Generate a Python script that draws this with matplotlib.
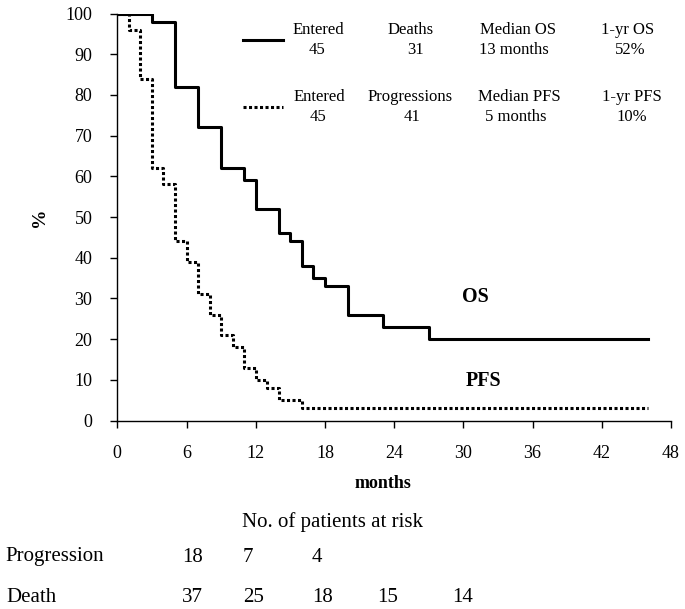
import matplotlib
matplotlib.use('Agg')
import matplotlib.pyplot as plt
from matplotlib.lines import Line2D

plt.rcParams['font.family'] = ['Liberation Serif', 'DejaVu Serif']

# curvas de supervivencia (meses, %)
os_meses = [0, 3, 5, 7, 9, 11, 12, 14, 15, 16, 17, 18, 20, 23, 27, 46]
os_pct = [100, 98, 82, 72, 62, 59, 52, 46, 44, 38, 35, 33, 26, 23, 20, 20]

pfs_meses = [0, 1, 2, 3, 4, 5, 6, 7, 8, 9, 10, 11, 12, 13, 14, 16, 46]
pfs_pct = [100, 96, 84, 62, 58, 44, 39, 31, 26, 21, 18, 13, 10, 8, 5, 3, 3]

# leyenda tipo tabla
fila_os = [('Entered', '45'), ('Deaths', '31'), ('Median OS', '13 months'), ('1-yr OS', '52%')]
fila_pfs = [('Entered', '45'), ('Progressions', '41'), ('Median PFS', '5 months'), ('1-yr PFS', '10%')]

# pacientes en riesgo
riesgo_progresion = [18, 7, 4]
riesgo_muerte = [37, 25, 18, 15, 14]

W, H = 685, 609
fig = plt.figure(figsize=(W / 100, H / 100), dpi=100)


def px(x, y):
    # pixel (desde arriba a la izquierda) -> fracción de figura
    return x / W, 1 - y / H


x0, y0 = px(117.3, 420.5)
x1, y1 = px(671, 13.5)
ax = fig.add_axes([x0, y0, x1 - x0, y1 - y0])

ax.step(os_meses, os_pct, where='post', color='black', lw=2.2)
ax.step(pfs_meses, pfs_pct, where='post', color='black', lw=2.2, linestyle=(0, (1, 0.8)))

ax.set_xlim(0, 48)
ax.set_ylim(0, 100)
ax.set_xticks(range(0, 49, 6))
ax.set_yticks(range(0, 101, 10))
ax.spines['top'].set_visible(False)
ax.spines['right'].set_visible(False)
for s in ('left', 'bottom'):
    ax.spines[s].set_linewidth(1.0)
ax.tick_params(axis='both', direction='out', length=5, width=1.0, labelsize=13)
ax.tick_params(axis='x', pad=13)
ax.tick_params(axis='y', pad=13)

ax.text(*px(475.7, 297), 'OS', transform=fig.transFigure, ha='center', va='center',
        fontsize=14.5, fontweight='bold')
ax.text(*px(483, 381), 'PFS', transform=fig.transFigure, ha='center', va='center',
        fontsize=14.5, fontweight='bold')

fig.text(*px(40, 217), '%', rotation=90, ha='center', va='center', fontsize=14, fontweight='bold')
fig.text(*px(383, 483), 'months', ha='center', va='center', fontsize=13, fontweight='bold')

# leyenda
fig.add_artist(Line2D([243 / W, 283 / W], [1 - 39.5 / H] * 2, color='black', lw=2.2,
                      transform=fig.transFigure))
fig.add_artist(Line2D([243 / W, 283 / W], [1 - 107.3 / H] * 2, color='black', lw=2.2,
                      linestyle=(0, (1, 0.8)), transform=fig.transFigure))

cols_os = [(318, 317), (410.5, 415), (518, 514), (628, 630)]
cols_pfs = [(319.5, 318.5), (410, 411.7), (519.5, 515.5), (632, 632)]
for (t1, t2), (c1, c2) in zip(fila_os, cols_os):
    fig.text(*px(c1, 29.5), t1, ha='center', va='center', fontsize=12)
    fig.text(*px(c2, 50), t2, ha='center', va='center', fontsize=12)
for (t1, t2), (c1, c2) in zip(fila_pfs, cols_pfs):
    fig.text(*px(c1, 96.7), t1, ha='center', va='center', fontsize=12)
    fig.text(*px(c2, 116.7), t2, ha='center', va='center', fontsize=12)

# tabla de pacientes en riesgo (columnas a 6, 12, 18, 24, 30 meses)
cols_riesgo = [182, 243, 312, 377, 452]
fig.text(*px(332, 522), 'No. of patients at risk', ha='center', va='center', fontsize=15)
fig.text(*px(5, 557), 'Progression', ha='left', va='center', fontsize=15)
fig.text(*px(6, 597), 'Death', ha='left', va='center', fontsize=15)
for c, n in zip(cols_riesgo, riesgo_progresion):
    fig.text(*px(c, 557), str(n), ha='left', va='center', fontsize=15)
for c, n in zip(cols_riesgo, riesgo_muerte):
    fig.text(*px(c, 597), str(n), ha='left', va='center', fontsize=15)

fig.savefig('out.png', dpi=100)
